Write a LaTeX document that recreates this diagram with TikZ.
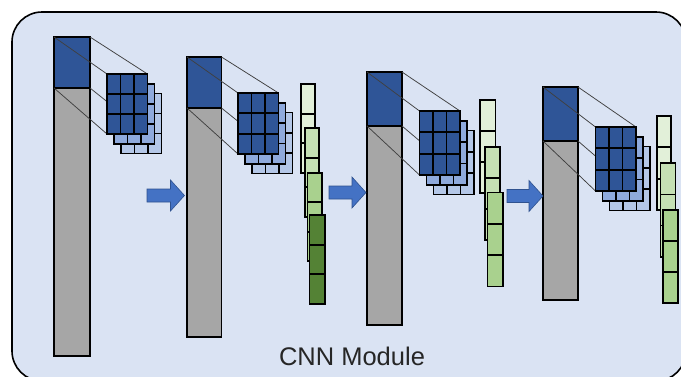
\documentclass[tikz,border=0pt]{standalone}
\usepackage{fontspec}
\setmainfont{Liberation Sans}
\usetikzlibrary{calc}

\definecolor{panelbg}{HTML}{DAE3F3}
\definecolor{kblue}{HTML}{2F5597}
\definecolor{kmid}{HTML}{8FAADC}
\definecolor{kback}{HTML}{B4C7E7}
\definecolor{bargrey}{HTML}{A6A6A6}
\definecolor{gA}{HTML}{E2F0D9}
\definecolor{gB}{HTML}{C5E0B4}
\definecolor{gC}{HTML}{A9D18E}
\definecolor{gD}{HTML}{548235}
\definecolor{flowfill}{HTML}{4472C4}
\definecolor{flowedge}{HTML}{2F528F}
\definecolor{labeltext}{HTML}{262626}

\tikzset{
  panel/.style={draw=black, line width=1.6pt, fill=panelbg, rounded corners=30pt},
  cell/.style={draw=black, line width=1.7pt},
  barlow/.style={cell, fill=bargrey},
  barhigh/.style={cell, fill=kblue},
  proj/.style={draw=black!75, line width=0.75pt},
  flow/.style={fill=flowfill, draw=flowedge, line width=0.6pt, line join=miter},
}

% one 3x3 kernel sheet: x, y, width, height, colour
\newcommand\kernsheet[5]{%
  \filldraw[cell, fill=#5] ({#1},{#2}) rectangle ++({#3},{#4});
  \draw[cell] ({#1+#3/3},{#2}) -- ++(0,{#4})
              ({#1+2*#3/3},{#2}) -- ++(0,{#4})
              ({#1},{#2+#4/3}) -- ++({#3},0)
              ({#1},{#2+2*#4/3}) -- ++({#3},0);
}

% one feature column of three cells: x, y, width, height, colour
\newcommand\featcol[5]{%
  \filldraw[cell, fill=#5] ({#1},{#2}) rectangle ++({#3},{#4});
  \draw[cell] ({#1},{#2+#4/3}) -- ++({#3},0)
              ({#1},{#2+2*#4/3}) -- ++({#3},0);
}

% input bar with its window and the stacked kernels
% id, bar x, bar top, bar width, window bottom, bar bottom, kernel x, kernel y, kernel height
\newcommand\cnnstage[9]{%
  \filldraw[barlow] ({#2},{#5}) rectangle ({#2+#4},{#6});
  \filldraw[barhigh] ({#2},{#3}) rectangle ({#2+#4},{#5});
  \path ({#2},{#3}) coordinate (#1-wtl)
        ({#2+#4},{#3}) coordinate (#1-wtr)
        ({#2},{#5}) coordinate (#1-wbl)
        ({#2+#4},{#5}) coordinate (#1-wbr)
        ({#7},{#8}) coordinate (#1-ktl)
        ({#7+40.5},{#8}) coordinate (#1-ktr)
        ({#7},{#8+#9}) coordinate (#1-kbl)
        ({#7+40.5},{#8+#9}) coordinate (#1-kbr);
  \draw[proj] (#1-wtl) -- (#1-ktl) (#1-wtr) -- (#1-ktr)
              (#1-wbl) -- (#1-kbl) (#1-wbr) -- (#1-kbr);
  \kernsheet{#7+14}{#8+19.4}{40.5}{#9}{kback}
  \kernsheet{#7+7}{#8+9.7}{40.5}{#9}{kmid}
  \kernsheet{#7}{#8}{40.5}{#9}{kblue}
}

% block arrow: left x, tip x, centre y
\newcommand\flowarrow[3]{%
  \filldraw[flow] ({#1},{#3-6.5}) -- ({#2-14},{#3-6.5}) -- ({#2-14},{#3-15.5})
    -- ({#2},{#3}) -- ({#2-14},{#3+15.5}) -- ({#2-14},{#3+6.5})
    -- ({#1},{#3+6.5}) -- cycle;
}

\begin{document}
\begin{tikzpicture}[x=1pt, y=-1pt]
  \useasboundingbox (0,0) rectangle (681,376);
  \clip (0,0) rectangle (681,376);

  % module frame
  \draw[panel] (12,12) rectangle (686,381);

  % stages
  \cnnstage{s1}{54}{37}{36}{88}{356}{107}{74}{60}
  \cnnstage{s2}{187}{57}{34.5}{108}{337}{238}{93}{61}
  \cnnstage{s3}{367}{72}{35}{126}{325}{419.5}{111}{64}
  \cnnstage{s4}{543}{87}{35}{141}{300}{595.5}{127}{64}

  % feature columns after stage 2
  \featcol{300.7}{84}{14.3}{89}{gA}
  \featcol{305}{128}{14.3}{89}{gB}
  \featcol{307.6}{173}{14.5}{88}{gC}
  \featcol{309.5}{215}{15.2}{89}{gD}

  % feature columns after stage 3
  \featcol{480.3}{100}{15.3}{93}{gA}
  \featcol{485}{147}{15.3}{93}{gB}
  \featcol{487.5}{192.5}{15.3}{94}{gC}

  % feature columns after stage 4
  \featcol{657}{116}{14.3}{94}{gA}
  \featcol{660.5}{163.3}{15}{93.4}{gB}
  \featcol{663.3}{210}{15}{93}{gC}

  % flow between stages
  \flowarrow{147}{184.5}{195.5}
  \flowarrow{329}{366}{192.5}
  \flowarrow{507}{543}{196}

  \node[font=\fontsize{25.5}{30}\selectfont, text=labeltext] (title) at (352,356) {CNN Module};
\end{tikzpicture}
\end{document}
